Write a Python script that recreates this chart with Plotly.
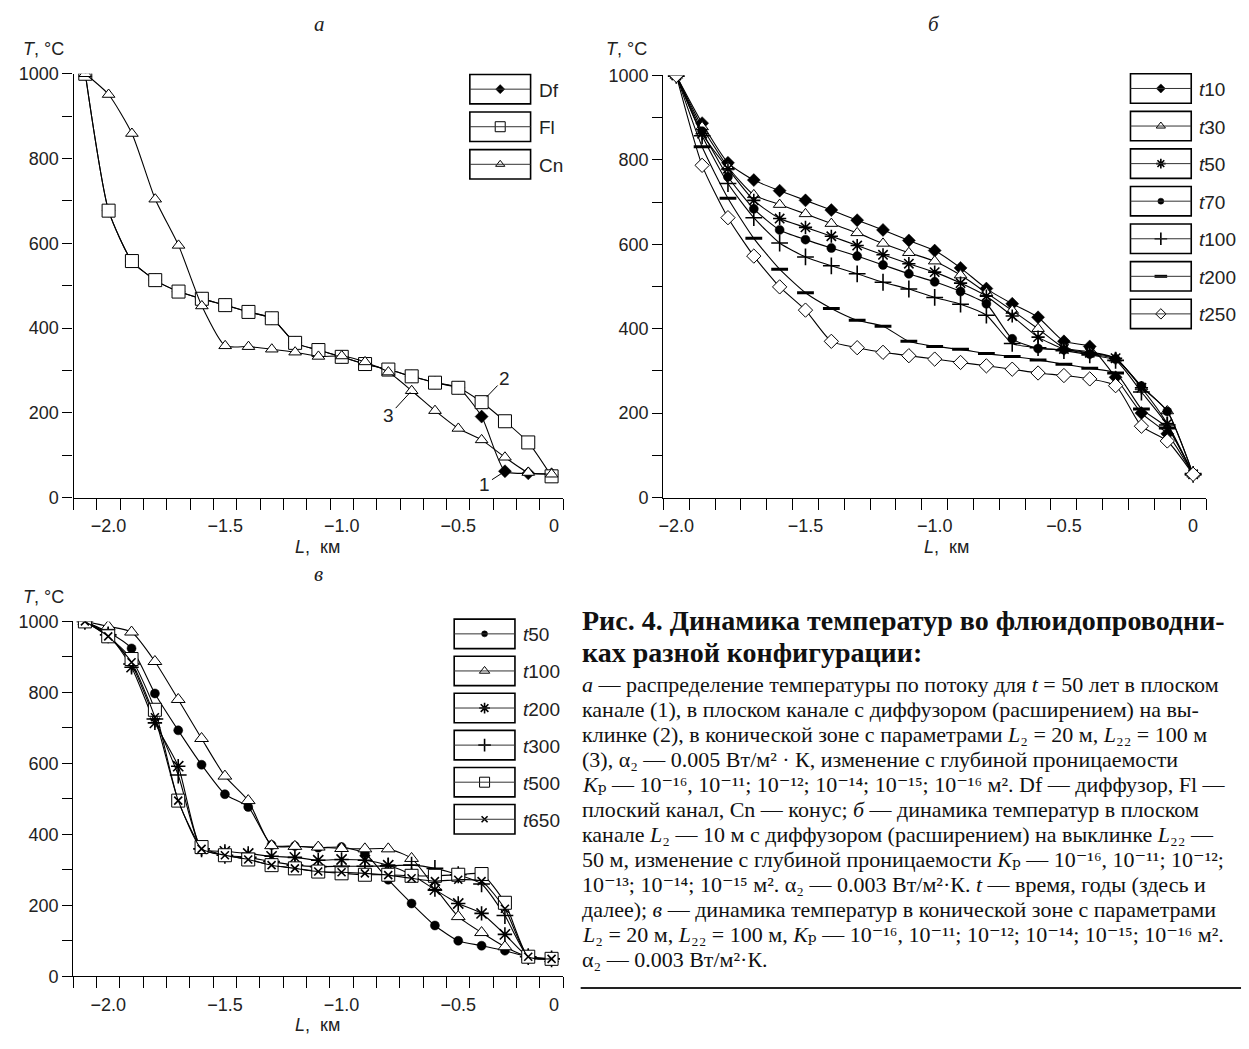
import plotly.graph_objects as go

W, H = 1249, 1049

# ---------------- DATA ----------------
# Panel а (t = 50 years): distance along the flow, km
L_a = [-2.1, -2.0, -1.9, -1.8, -1.7, -1.6, -1.5, -1.4, -1.3, -1.2, -1.1,
       -1.0, -0.9, -0.8, -0.7, -0.6, -0.5, -0.4, -0.3, -0.2, -0.1]
T_a_Df = [1000, 677, 558, 513, 486, 469, 454, 438, 423, 365, 348,
          332, 315, 302, 286, 271, 259, 191, 62, 57, 55]
T_a_Fl = [1000, 677, 558, 513, 486, 469, 454, 438, 423, 365, 348,
          332, 315, 302, 286, 271, 259, 225, 180, 130, 50]
T_a_Cn = [1000, 951, 859, 704, 595, 452, 358, 356, 350, 343, 333,
          334, 320, 296, 252, 205, 163, 136, 95, 59, 55]
names_a = ["Df", "Fl", "Cn"]

# Panel б
L_b = [-2.0, -1.9, -1.8, -1.7, -1.6, -1.5, -1.4, -1.3, -1.2, -1.1, -1.0,
       -0.9, -0.8, -0.7, -0.6, -0.5, -0.4, -0.3, -0.2, -0.1, 0.0]
T_b_t10 = [1000, 887, 793, 752, 727, 704, 681, 657, 634, 609, 585,
           544, 495, 459, 427, 370, 358, 285, 200, 151, 55]
T_b_t30 = [1000, 878, 783, 717, 694, 672, 649, 627, 602, 580, 560,
           527, 485, 443, 400, 355, 345, 330, 262, 205, 55]
T_b_t50 = [1000, 862, 779, 704, 661, 640, 619, 597, 575, 554, 534,
           508, 477, 430, 380, 352, 343, 330, 260, 175, 55]
T_b_t70 = [1000, 868, 760, 684, 634, 611, 591, 572, 551, 530, 511,
           488, 459, 376, 353, 350, 340, 328, 264, 204, 55]
T_b_t100 = [1000, 857, 744, 663, 603, 570, 549, 530, 510, 494, 474,
            458, 432, 365, 355, 348, 338, 325, 250, 172, 55]
T_b_t200 = [1000, 831, 709, 614, 541, 485, 448, 420, 406, 370, 358,
            351, 341, 334, 326, 316, 306, 295, 210, 165, 55]
T_b_t250 = [1000, 787, 663, 572, 499, 444, 370, 355, 344, 336, 328,
            320, 312, 304, 295, 289, 281, 265, 169, 134, 55]
names_b = ["t10", "t30", "t50", "t70", "t100", "t200", "t250"]

# Panel в
L_c = [-2.1, -2.0, -1.9, -1.8, -1.7, -1.6, -1.5, -1.4, -1.3, -1.2, -1.1,
       -1.0, -0.9, -0.8, -0.7, -0.6, -0.5, -0.4, -0.3, -0.2, -0.1]
T_c_t50 = [1000, 970, 924, 797, 693, 596, 513, 477, 370, 367, 362,
           364, 346, 272, 205, 143, 100, 86, 72, 55, 49]
T_c_t100 = [1000, 986, 970, 887, 780, 670, 564, 495, 368, 366, 364,
            360, 359, 359, 332, 250, 168, 123, 83, 55, 49]
T_c_t200 = [1000, 963, 871, 714, 592, 359, 352, 346, 338, 335, 327,
            329, 327, 313, 286, 244, 205, 177, 118, 55, 49]
T_c_t300 = [1000, 962, 880, 725, 567, 359, 341, 335, 323, 313, 309,
            310, 310, 311, 313, 304, 286, 260, 171, 55, 49]
T_c_t500 = [1000, 958, 894, 751, 495, 364, 341, 329, 313, 304, 295,
            290, 286, 286, 283, 283, 286, 288, 207, 55, 49]
T_c_t650 = [1000, 958, 885, 730, 495, 359, 341, 329, 313, 304, 295,
            293, 290, 285, 276, 268, 272, 268, 190, 55, 49]
names_c = ["t50", "t100", "t200", "t300", "t500", "t650"]

# tick labels
xtick_text = ["−2.0", "−1.5", "−1.0", "−0.5", "0"]
xtick_vals_ac = [-2.0, -1.5, -1.0, -0.5, -0.09]
xtick_vals_b = [-2.0, -1.5, -1.0, -0.5, 0.0]

# ---------------- STYLES ----------------
BLK = "black"
WHT = "white"


def mk(symbol, size, fill, lw=1.0):
    return dict(symbol=symbol, size=size, color=fill, line=dict(color=BLK, width=lw))


sty_a = {
    "Df": mk("diamond", 10, BLK, 0.5),
    "Fl": mk("square", 13, WHT, 1.0),
    "Cn": mk("triangle-up", 11, WHT, 1.0),
}
sty_b = {
    "t10": mk("diamond", 10, BLK, 0.5),
    "t30": mk("triangle-up", 11, WHT, 1.0),
    "t50": mk("asterisk-open", 11, BLK, 1.6),
    "t70": mk("circle", 9, BLK, 0.5),
    "t100": mk("cross-thin-open", 12, BLK, 1.6),
    "t200": mk("line-ew-open", 12, BLK, 3.0),
    "t250": mk("diamond", 11, WHT, 1.0),
}
sty_c = {
    "t50": mk("circle", 9, BLK, 0.5),
    "t100": mk("triangle-up", 12, WHT, 1.0),
    "t200": mk("asterisk-open", 12, BLK, 1.6),
    "t300": mk("cross-thin-open", 12, BLK, 1.6),
    "t500": mk("square", 13, WHT, 1.0),
    "t650": mk("x-thin-open", 8, BLK, 1.6),
}

FONT_SANS = "Liberation Sans, Arial, sans-serif"
FONT_SERIF = "Liberation Serif, Times New Roman, DejaVu Serif, serif"


def fx(px):
    return px / W


def fy(py):
    return 1 - py / H


fig = go.Figure()


def add_series(xs, ys, name, style, xa, ya):
    fig.add_trace(go.Scatter(
        x=xs, y=ys, name=name, mode="lines+markers",
        line=dict(color=BLK, width=1.1, shape="spline", smoothing=0.6),
        marker=style, xaxis=xa, yaxis=ya, showlegend=False,
    ))


for nm, ys in zip(names_a, [T_a_Df, T_a_Fl, T_a_Cn]):
    add_series(L_a, ys, nm, sty_a[nm], "x", "y")
for nm, ys in zip(names_b, [T_b_t10, T_b_t30, T_b_t50, T_b_t70, T_b_t100, T_b_t200, T_b_t250]):
    add_series(L_b, ys, nm, sty_b[nm], "x2", "y2")
for nm, ys in zip(names_c, [T_c_t50, T_c_t100, T_c_t200, T_c_t300, T_c_t500, T_c_t650]):
    add_series(L_c, ys, nm, sty_c[nm], "x3", "y3")


def xaxis(dom, rng, tick0, tickvals, anchor):
    return dict(
        domain=[fx(dom[0]), fx(dom[1])], range=rng, anchor=anchor,
        showline=True, linecolor=BLK, linewidth=1.3, showgrid=False, zeroline=False,
        tickmode="array", tickvals=tickvals, ticktext=xtick_text,
        ticks="outside", ticklen=12, tickcolor="rgba(0,0,0,0)",
        tickfont=dict(family=FONT_SANS, size=18, color="#222"),
        minor=dict(tickmode="linear", tick0=tick0, dtick=0.1, ticks="outside",
                   ticklen=11, tickwidth=1.2, tickcolor=BLK, showgrid=False),
        fixedrange=True,
    )


def yaxis(dom, anchor):
    return dict(
        domain=[fy(dom[1]), fy(dom[0])], range=[0, 1000], anchor=anchor,
        showline=True, linecolor=BLK, linewidth=1.3, showgrid=False, zeroline=False,
        tickmode="linear", tick0=0, dtick=200, ticks="outside", ticklen=10,
        tickwidth=1.2, tickcolor=BLK,
        tickfont=dict(family=FONT_SANS, size=18, color="#222"),
        minor=dict(tickmode="linear", tick0=0, dtick=100, ticks="outside",
                   ticklen=10, tickwidth=1.2, tickcolor=BLK, showgrid=False),
        fixedrange=True,
    )


layout = dict(
    width=W, height=H, margin=dict(l=0, r=0, t=0, b=0),
    paper_bgcolor=WHT, plot_bgcolor="rgba(0,0,0,0)", showlegend=False,
    xaxis=xaxis((68.9, 560.6), [-2.15, -0.0495], -2.05, xtick_vals_ac, "y"),
    yaxis=yaxis((65, 497), "x"),
    xaxis2=xaxis((661, 1206), [-2.05, 0.0505], -1.95, xtick_vals_b, "y2"),
    yaxis2=yaxis((66.7, 497), "x2"),
    xaxis3=xaxis((68.5, 560.6), [-2.15, -0.0495], -2.05, xtick_vals_ac, "y3"),
    yaxis3=yaxis((623.3, 985), "x3"),
    xaxis4=dict(domain=[0, 1], range=[0, W], visible=False, anchor="y4", fixedrange=True),
    yaxis4=dict(domain=[0, 1], range=[H, 0], visible=False, anchor="x4", fixedrange=True),
)
fig.update_layout(**layout)

shapes = []
annotations = []


def txt(x, y, text, size=18, family=FONT_SANS, xanchor="left", yanchor="middle", color="#222"):
    annotations.append(dict(x=x, y=y, xref="x4", yref="y4", text=text, showarrow=False,
                            xanchor=xanchor, yanchor=yanchor,
                            font=dict(family=family, size=size, color=color)))


# ---------------- LEGENDS (custom boxed keys) ----------------
def legend(names, styles, left, top, step, label_fmt, box_w=61, box_h=30):
    for k, nm in enumerate(names):
        y0 = top + k * step
        cy = y0 + box_h / 2
        shapes.append(dict(type="rect", xref="x4", yref="y4", x0=left, x1=left + box_w,
                           y0=y0, y1=y0 + box_h, line=dict(color=BLK, width=1.6)))
        shapes.append(dict(type="line", xref="x4", yref="y4", x0=left, x1=left + box_w,
                           y0=cy, y1=cy, line=dict(color="#333", width=1)))
        st = dict(styles[nm])
        st["size"] = max(6, st["size"] - 3)
        fig.add_trace(go.Scatter(x=[left + box_w / 2], y=[cy], mode="markers", marker=st,
                                 xaxis="x4", yaxis="y4", showlegend=False, hoverinfo="skip"))
        txt(left + box_w + 6, cy + 1, label_fmt(nm), size=19)


legend(names_a, sty_a, 466.7, 65.7, 38.3, lambda s: s)
legend(names_b, sty_b, 1130, 65, 38.3, lambda s: "<i>t</i>" + s[1:])
legend(names_c, sty_c, 451, 621, 37.8, lambda s: "<i>t</i>" + s[1:])

# ---------------- AXIS TEXTS ----------------
for (x, y) in [(16, 40), (601, 40), (16, 598)]:
    txt(x, y, "<i>T</i>, °C", size=18)
for (x, y) in [(314, 547), (945, 547), (314, 1035)]:
    txt(x, y, "<i>L</i>,\u00a0\u00a0км", size=18, xanchor="center")
for (x, y, s) in [(316, 14, "а"), (933, 14, "б"), (315, 575, "в")]:
    txt(x, y, "<i>" + s + "</i>", size=21, family=FONT_SERIF, xanchor="center")

# curve labels in panel а
for idx, ys, lab, ax, ay, so in [(17, T_a_Fl, "2", 23, -24, 7),
                                 (14, T_a_Cn, "3", -23, 25, 2),
                                 (18, T_a_Df, "1", -20, 13, 3)]:
    annotations.append(dict(x=L_a[idx], y=ys[idx], xref="x", yref="y", text=lab,
                            showarrow=True, arrowhead=0, arrowwidth=1, arrowcolor=BLK,
                            ax=ax, ay=ay, standoff=so,
                            font=dict(family=FONT_SANS, size=19, color="#222")))

# ---------------- CAPTION ----------------
cap_title = ["Рис. 4. Динамика температур во флюидопроводни-",
             "ках разной конфигурации:"]
cap_lines = [
    "<i>а</i> — распределение температуры по потоку для <i>t</i> = 50 лет в плоском",
    "канале (1), в плоском канале с диффузором (расширением) на вы-",
    "клинке (2), в конической зоне с параметрами <i>L</i>₂ = 20 м, <i>L</i>₂₂ = 100 м",
    "(3), α₂ — 0.005 Вт/м² · К, изменение с глубиной проницаемости",
    "<i>K</i>ₚ — 10⁻¹⁶, 10⁻¹¹; 10⁻¹²; 10⁻¹⁴; 10⁻¹⁵; 10⁻¹⁶ м². Df — диффузор, Fl —",
    "плоский канал, Cn — конус; <i>б</i> — динамика температур в плоском",
    "канале <i>L</i>₂ — 10 м с диффузором (расширением) на выклинке <i>L</i>₂₂ —",
    "50 м, изменение с глубиной проницаемости <i>K</i>ₚ — 10⁻¹⁶, 10⁻¹¹; 10⁻¹²;",
    "10⁻¹³; 10⁻¹⁴; 10⁻¹⁵ м². α₂ — 0.003 Вт/м²·К. <i>t</i> — время, годы (здесь и",
    "далее); <i>в</i> — динамика температур в конической зоне с параметрами",
    "<i>L</i>₂ = 20 м, <i>L</i>₂₂ = 100 м, <i>K</i>ₚ — 10⁻¹⁶, 10⁻¹¹; 10⁻¹²; 10⁻¹⁴; 10⁻¹⁵; 10⁻¹⁶ м².",
    "α₂ — 0.003 Вт/м²·К.",
]
for k, line in enumerate(cap_title):
    txt(577, 622 + k * 33, "<b>" + line + "</b>", size=28, family=FONT_SERIF, color="#111")
for k, line in enumerate(cap_lines):
    txt(577, 688 + k * 25.45, line, size=22, family=FONT_SERIF, color="#111")
shapes.append(dict(type="line", xref="x4", yref="y4", x0=578, x1=1241, y0=997, y1=997,
                   line=dict(color="#222", width=2)))

fig.update_layout(shapes=shapes, annotations=annotations)
fig.write_html("out.html")
